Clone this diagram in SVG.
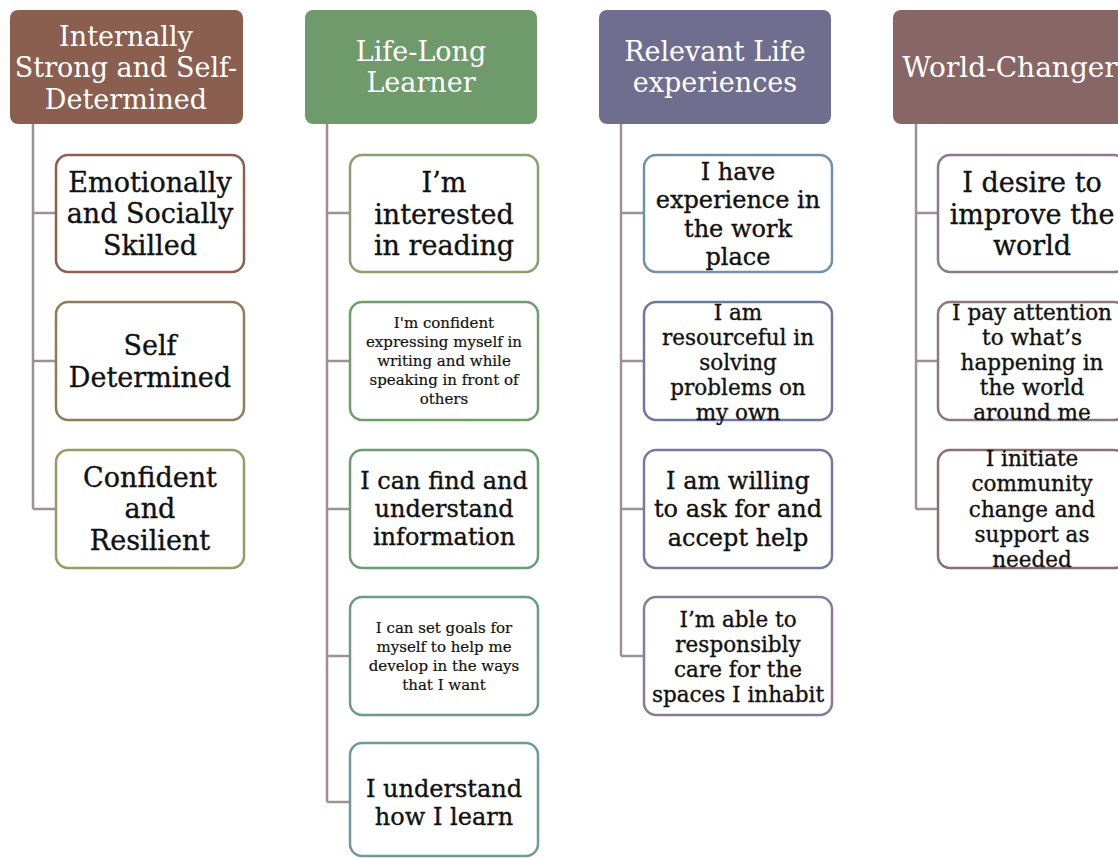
<svg xmlns="http://www.w3.org/2000/svg" width="1118" height="858" viewBox="0 0 1118 858">
<style>
.hdr{stroke:none}
.box{fill:#fff;stroke-width:2.5}
.ht{font-family:"DejaVu Serif","Liberation Serif",serif;font-size:27px;fill:#fff;text-anchor:middle;dominant-baseline:central}
.t{font-family:"DejaVu Serif","Liberation Serif",serif;fill:#111;stroke:#111;stroke-width:0.35;text-anchor:middle;dominant-baseline:central}
.f27{font-size:27px}.f24{font-size:24px}.f21{font-size:21.5px}.f15{font-size:15px}
.f15{stroke-width:0.2}
.conn{fill:none;stroke:#9e9096;stroke-width:2.5}
</style>
<rect width="1118" height="858" fill="#fff"/>
<g id="connectors">
<path class="conn" d="M33 124V509M33 213H56M33 361H56M33 509H56"/>
<path class="conn" d="M327 124V802M327 213H350M327 361H350M327 509H350M327 656H350M327 802H350"/>
<path class="conn" d="M621 124V656M621 213H644M621 361H644M621 509H644M621 656H644"/>
<path class="conn" d="M916 124V509M916 213H938M916 361H938M916 509H938"/>
</g>
<g id="h1"><rect class="hdr" x="10" y="10" width="233" height="114" rx="8" fill="#8a5f50"/>
<text class="ht" x="126"><tspan x="126" y="36">Internally</tspan><tspan x="126" y="67">Strong and Self-</tspan><tspan x="126" y="99">Determined</tspan></text></g>
<g id="h2"><rect class="hdr" x="305" y="10" width="232" height="114" rx="8" fill="#6e9a6c"/>
<text class="ht"><tspan x="421" y="51">Life-Long</tspan><tspan x="421" y="82">Learner</tspan></text></g>
<g id="h3"><rect class="hdr" x="599" y="10" width="232" height="114" rx="8" fill="#6f6e8e"/>
<text class="ht"><tspan x="715" y="51">Relevant Life</tspan><tspan x="715" y="82">experiences</tspan></text></g>
<g id="h4"><rect class="hdr" x="893" y="10" width="232" height="114" rx="8" fill="#896666"/>
<text class="ht" style="font-size:28px"><tspan x="1010" y="67">World-Changer</tspan></text></g>

<g id="c1b1"><rect class="box" x="56" y="155" width="188" height="117" rx="12" stroke="#8b6050"/>
<text class="t f27"><tspan x="150" y="182">Emotionally</tspan><tspan x="150" y="213">and Socially</tspan><tspan x="150" y="245">Skilled</tspan></text></g>
<g id="c1b2"><rect class="box" x="56" y="302" width="188" height="118" rx="12" stroke="#8e7d5a"/>
<text class="t f27"><tspan x="150" y="345">Self</tspan><tspan x="150" y="377">Determined</tspan></text></g>
<g id="c1b3"><rect class="box" x="56" y="450" width="188" height="118" rx="12" stroke="#9a9a62"/>
<text class="t f27"><tspan x="150" y="477">Confident</tspan><tspan x="150" y="508">and</tspan><tspan x="150" y="540">Resilient</tspan></text></g>

<g id="c2b1"><rect class="box" x="350" y="155" width="188" height="117" rx="12" stroke="#8aa070"/>
<text class="t f27"><tspan x="444" y="182">I’m</tspan><tspan x="444" y="214">interested</tspan><tspan x="444" y="245">in reading</tspan></text></g>
<g id="c2b2"><rect class="box" x="350" y="302" width="188" height="118" rx="12" stroke="#6e9e6c"/>
<text class="t f15"><tspan x="444" y="323">I'm confident</tspan><tspan x="444" y="342">expressing myself in</tspan><tspan x="444" y="361">writing and while</tspan><tspan x="444" y="380">speaking in front of</tspan><tspan x="444" y="399">others</tspan></text></g>
<g id="c2b3"><rect class="box" x="350" y="450" width="188" height="118" rx="12" stroke="#6c9c76"/>
<text class="t f24"><tspan x="444" y="481">I can find and</tspan><tspan x="444" y="509">understand</tspan><tspan x="444" y="537">information</tspan></text></g>
<g id="c2b4"><rect class="box" x="350" y="597" width="188" height="118" rx="12" stroke="#6e9a88"/>
<text class="t f15"><tspan x="444" y="628">I can set goals for</tspan><tspan x="444" y="647">myself to help me</tspan><tspan x="444" y="666">develop in the ways</tspan><tspan x="444" y="685">that I want</tspan></text></g>
<g id="c2b5"><rect class="box" x="350" y="743" width="188" height="113" rx="12" stroke="#6e9a9a"/>
<text class="t f24"><tspan x="444" y="789">I understand</tspan><tspan x="444" y="817">how I learn</tspan></text></g>

<g id="c3b1"><rect class="box" x="644" y="155" width="188" height="117" rx="12" stroke="#7390a8"/>
<text class="t f24"><tspan x="738" y="172">I have</tspan><tspan x="738" y="200">experience in</tspan><tspan x="738" y="229">the work</tspan><tspan x="738" y="257">place</tspan></text></g>
<g id="c3b2"><rect class="box" x="644" y="302" width="188" height="118" rx="12" stroke="#6e78a0"/>
<text class="t f21"><tspan x="738" y="312">I am</tspan><tspan x="738" y="337">resourceful in</tspan><tspan x="738" y="362">solving</tspan><tspan x="738" y="387">problems on</tspan><tspan x="738" y="412">my own</tspan></text></g>
<g id="c3b3"><rect class="box" x="644" y="450" width="188" height="118" rx="12" stroke="#7a78a0"/>
<text class="t f24"><tspan x="738" y="481">I am willing</tspan><tspan x="738" y="509">to ask for and</tspan><tspan x="738" y="538">accept help</tspan></text></g>
<g id="c3b4"><rect class="box" x="644" y="597" width="188" height="118" rx="12" stroke="#8a7a98"/>
<text class="t f21"><tspan x="738" y="619">I’m able to</tspan><tspan x="738" y="644">responsibly</tspan><tspan x="738" y="669">care for the</tspan><tspan x="738" y="694">spaces I inhabit</tspan></text></g>

<g id="c4b1"><rect class="box" x="938" y="155" width="188" height="117" rx="12" stroke="#8a7a8e"/>
<text class="t f27"><tspan x="1032" y="182">I desire to</tspan><tspan x="1032" y="214">improve the</tspan><tspan x="1032" y="245">world</tspan></text></g>
<g id="c4b2"><rect class="box" x="938" y="302" width="188" height="118" rx="12" stroke="#8a7a80"/>
<text class="t f21"><tspan x="1032" y="312">I pay attention</tspan><tspan x="1032" y="337">to what’s</tspan><tspan x="1032" y="362">happening in</tspan><tspan x="1032" y="387">the world</tspan><tspan x="1032" y="412">around me</tspan></text></g>
<g id="c4b3"><rect class="box" x="938" y="450" width="188" height="118" rx="12" stroke="#8a7070"/>
<text class="t f21"><tspan x="1032" y="458">I initiate</tspan><tspan x="1032" y="483">community</tspan><tspan x="1032" y="509">change and</tspan><tspan x="1032" y="534">support as</tspan><tspan x="1032" y="559">needed</tspan></text></g>
</svg>
